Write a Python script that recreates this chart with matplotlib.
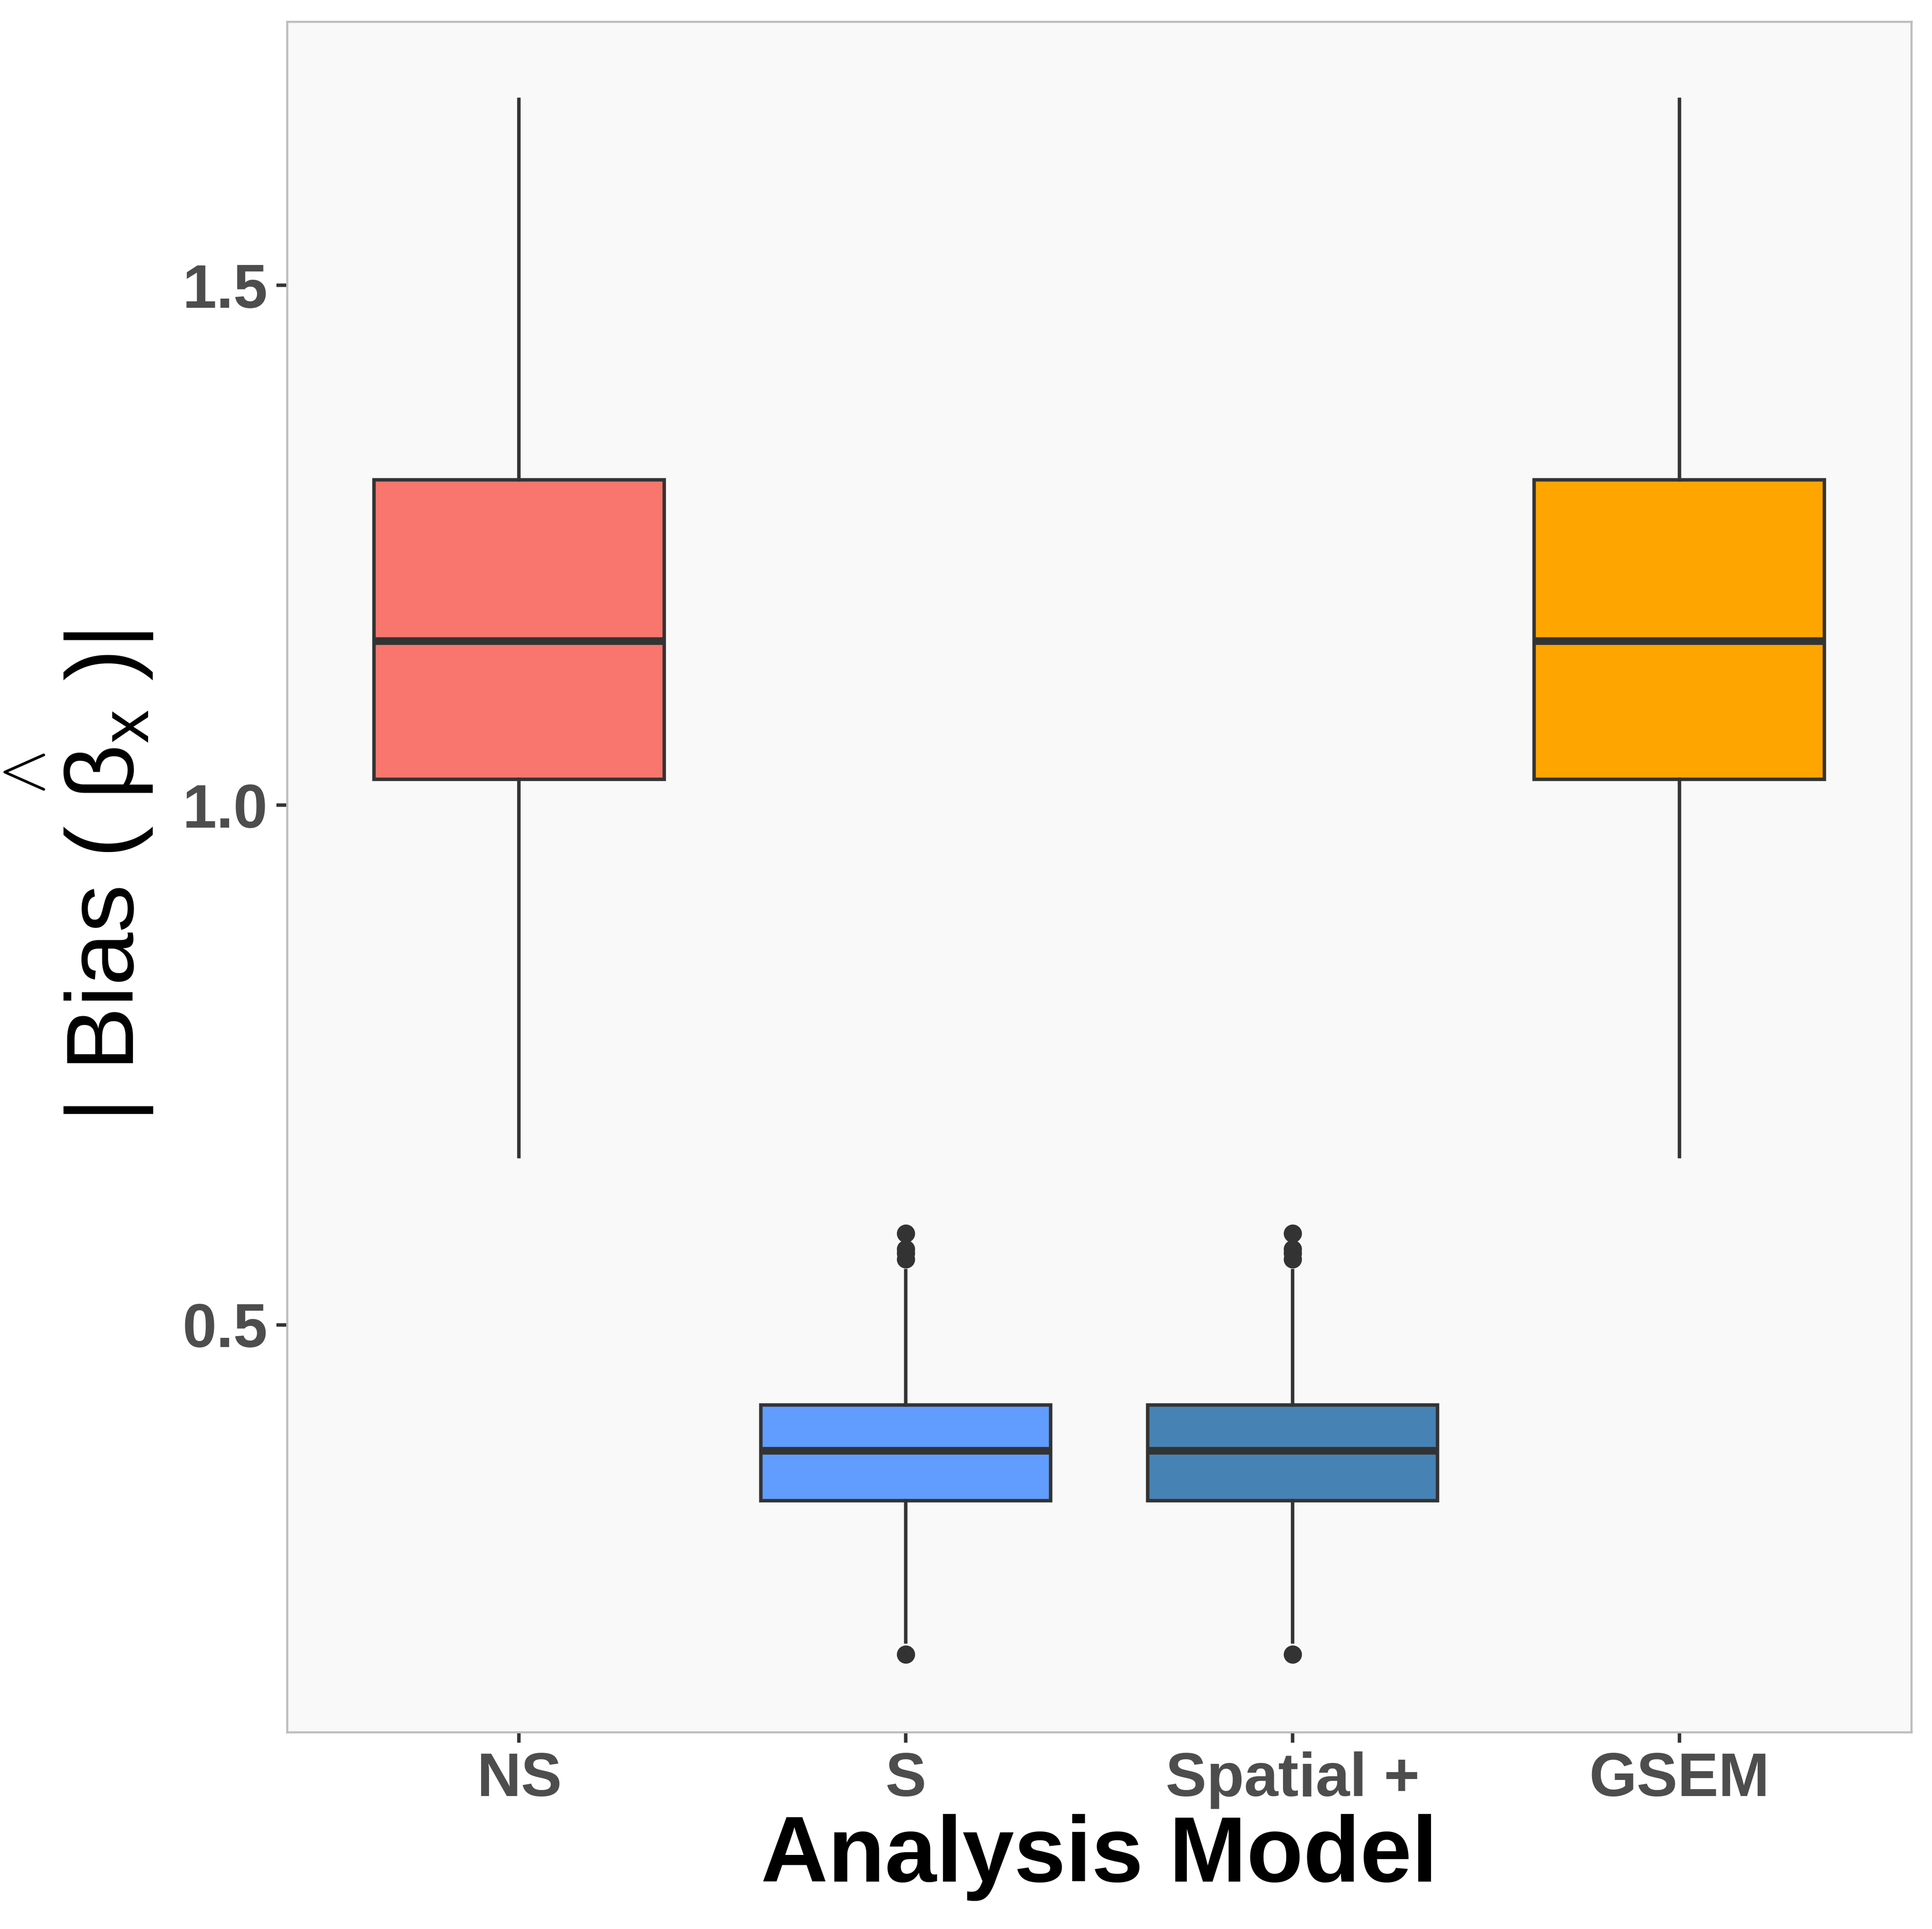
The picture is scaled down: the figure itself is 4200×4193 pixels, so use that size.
import matplotlib
matplotlib.use("Agg")
import matplotlib.pyplot as plt

# donnees
models = ['NS', 'S', 'Spatial +', 'GSEM']
box_colors = ['#F8766D', '#619CFF', '#4682B4', '#FFA500']
whisk_low = [0.662, 0.195, 0.195, 0.662]
q1 = [1.025, 0.331, 0.331, 1.025]
medians = [1.158, 0.379, 0.379, 1.158]
q3 = [1.313, 0.423, 0.423, 1.313]
whisk_high = [1.679, 0.552, 0.552, 1.679]
outliers = [[],
            [0.588, 0.573, 0.569, 0.563, 0.183],
            [0.588, 0.573, 0.569, 0.563, 0.183],
            []]

plt.rcParams['font.family'] = ['Liberation Sans', 'DejaVu Sans']
plt.rcParams['mathtext.fontset'] = 'custom'
plt.rcParams['mathtext.rm'] = 'Liberation Sans'
plt.rcParams['mathtext.it'] = 'Liberation Sans:italic'

stats = []
for i in range(len(models)):
    stats.append({'label': models[i], 'whislo': whisk_low[i], 'q1': q1[i],
                  'med': medians[i], 'q3': q3[i], 'whishi': whisk_high[i],
                  'fliers': outliers[i]})

fig = plt.figure(figsize=(14, 4193 / 300), dpi=300)
ax = fig.add_axes([624 / 4200, 1 - 3765 / 4193, (4155 - 624) / 4200, (3765 - 47) / 4193])
ax.set_facecolor('#F9F9F9')

pos = list(range(1, len(models) + 1))
bp = ax.bxp(stats, positions=pos, widths=0.75, patch_artist=True, showcaps=False,
            boxprops=dict(edgecolor='#333333', linewidth=1.8),
            whiskerprops=dict(color='#333333', linewidth=1.8),
            medianprops=dict(color='#333333', linewidth=4),
            flierprops=dict(marker='o', markersize=8.5, markerfacecolor='#333333',
                            markeredgecolor='#333333', linestyle='none'))
for patch, c in zip(bp['boxes'], box_colors):
    patch.set_facecolor(c)

# limites a la ggplot (5 %)
all_vals = whisk_low + whisk_high + [v for o in outliers for v in o]
lo, hi = min(all_vals), max(all_vals)
ax.set_ylim(lo - 0.05 * (hi - lo), hi + 0.05 * (hi - lo))
ax.set_xlim(0.4, len(models) + 0.6)

ax.set_yticks([0.5, 1.0, 1.5])
ax.set_yticklabels(['0.5', '1.0', '1.5'])
ax.set_xticks(pos)
ax.set_xticklabels(models)
ax.tick_params(axis='both', length=5.5, width=1.8, color='#333333',
               labelsize=32, labelcolor='#4D4D4D', pad=4.5)
for lab in ax.get_xticklabels() + ax.get_yticklabels():
    lab.set_fontweight('bold')

for s in ax.spines.values():
    s.set_color('#BEBEBE')
    s.set_linewidth(1.1)
ax.grid(False)

fig.text(0.5 * (624 + 4155) / 4200, 1 - 4090 / 4193, 'Analysis Model',
         ha='center', va='baseline', fontsize=48.5, fontweight='bold', color='black')
fig.text(172 / 4200, 1 - 1906 / 4193,
         r'| Bias ( $\overset{\wedge}{\mathrm{\beta}}_{\mathrm{x}}$ )|',
         rotation=90, ha='center', va='center', fontsize=50, color='black')

fig.savefig('out.png', dpi=300, facecolor='white')
